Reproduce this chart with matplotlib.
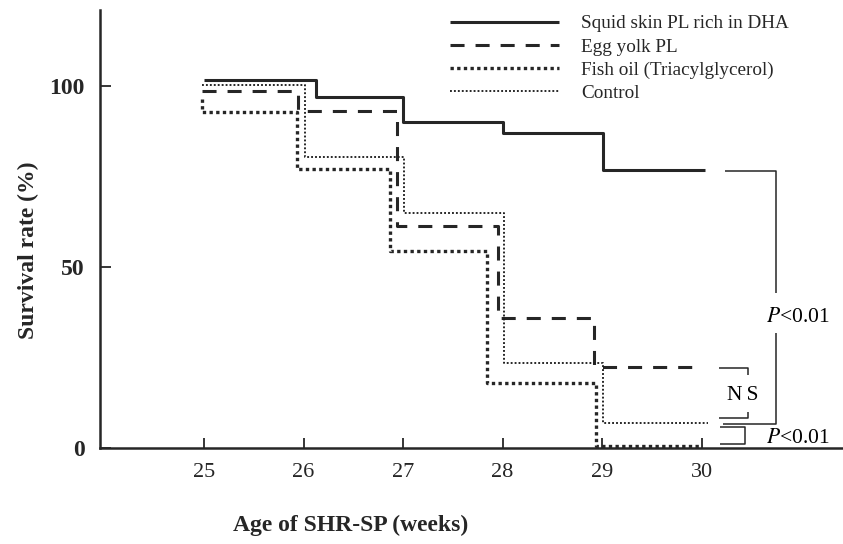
import matplotlib
matplotlib.use("Agg")
import matplotlib.pyplot as plt

plt.rcParams['font.family'] = ['Liberation Serif', 'DejaVu Serif']
plt.rcParams['mathtext.fontset'] = 'stix'

# ---- data ----
series_labels = ["Squid skin PL rich in DHA", "Egg yolk PL",
                 "Fish oil (Triacylglycerol)", "Control"]

weeks_squid = [25.0, 26.13, 27.0, 28.0, 29.01, 30.03]
surv_squid = [101.6, 96.9, 90.1, 86.9, 76.8, 76.8]

weeks_egg = [24.98, 25.94, 26.94, 27.95, 28.92, 30.0]
surv_egg = [98.7, 93.2, 61.3, 36.0, 22.4, 22.4]

weeks_fish = [24.98, 24.98, 25.93, 26.87, 27.84, 28.94, 30.0]
surv_fish = [96.5, 92.7, 77.0, 54.4, 18.0, 0.6, 0.6]

weeks_ctrl = [24.98, 26.01, 27.01, 28.01, 29.01, 30.06]
surv_ctrl = [100.3, 80.5, 65.0, 23.5, 6.8, 6.8]

x_ticks = [25, 26, 27, 28, 29, 30]
y_ticks = [0, 50, 100]

ink = '#262626'

fig = plt.figure(figsize=(8.43, 5.44), dpi=100)
ax = fig.add_axes([100/843, 96/544, 743/843, 438/544])
ax.set_xlim(23.955, 31.42)
ax.set_ylim(0, 121)

h1, = ax.step(weeks_squid, surv_squid, where='post', color=ink, lw=2.2,
              solid_capstyle='butt', label=series_labels[0])
h2, = ax.step(weeks_egg, surv_egg, where='post', color=ink, lw=2.2,
              linestyle=(0, (4.6, 3.6)), dash_capstyle='butt', label=series_labels[1])
h3, = ax.step(weeks_fish, surv_fish, where='post', color=ink, lw=2.4,
              linestyle=(0, (1, 1)), dash_capstyle='butt', label=series_labels[2])
h4, = ax.step(weeks_ctrl, surv_ctrl, where='post', color='#1e1e1e', lw=1.35,
              linestyle=(0, (1, 1.1)), dash_capstyle='butt', label=series_labels[3])

# significance brackets
bk = dict(color=ink, lw=1.1, solid_capstyle='butt')
# squid vs others
ax.plot([30.23, 30.75, 30.75], [76.5, 76.5, 42.8], **bk)
ax.plot([30.75, 30.75, 30.21], [31.8, 6.6, 6.6], **bk)
ax.text(30.97, 36.0, r'$\mathit{P}$<0.01', ha='center', va='center', fontsize=15.5)
# egg vs control (NS)
ax.plot([30.17, 30.47, 30.47], [22.2, 22.2, 20.2], **bk)
ax.plot([30.47, 30.47, 30.17], [10.0, 8.3, 8.3], **bk)
ax.text(30.41, 14.4, 'N\u2009S', ha='center', va='center', fontsize=15.5)
# fish oil vs control
ax.plot([30.18, 30.44, 30.44, 30.18], [5.7, 5.7, 1.2, 1.2], **bk)
ax.text(30.97, 2.6, r'$\mathit{P}$<0.01', ha='center', va='center', fontsize=15.5)

# axes styling
for s in ['top', 'right']:
    ax.spines[s].set_visible(False)
for s in ['left', 'bottom']:
    ax.spines[s].set_linewidth(1.8)
    ax.spines[s].set_color(ink)

ax.set_xticks(x_ticks)
ax.set_xticklabels([str(v) for v in x_ticks], fontsize=16)
ax.set_yticks(y_ticks)
ax.set_yticklabels([str(v) for v in y_ticks], fontsize=17, fontweight='bold')
ax.tick_params(axis='x', direction='in', length=7, width=1.3, color=ink, pad=11, labelcolor=ink)
ax.tick_params(axis='y', direction='in', length=8, width=1.3, color=ink, pad=11, labelcolor=ink)

fig.text(28/843, 1 - 250/544, 'Survival rate (%)', rotation=90, ha='center', va='center',
         fontsize=17, fontweight='bold', color=ink)
fig.text(351/843, 1 - 525/544, 'Age of SHR-SP (weeks)', ha='center', va='center',
         fontsize=17, fontweight='bold', color=ink)

leg = ax.legend(handles=[h1, h2, h3, h4], loc='upper left',
                bbox_to_anchor=(450/843, 1 - 15/544), bbox_transform=fig.transFigure,
                frameon=False, fontsize=13.8, handlelength=5.7, handletextpad=1.15,
                labelspacing=0.3, borderpad=0, borderaxespad=0)
for t in leg.get_texts():
    t.set_color(ink)

fig.savefig('out.png', dpi=100)
